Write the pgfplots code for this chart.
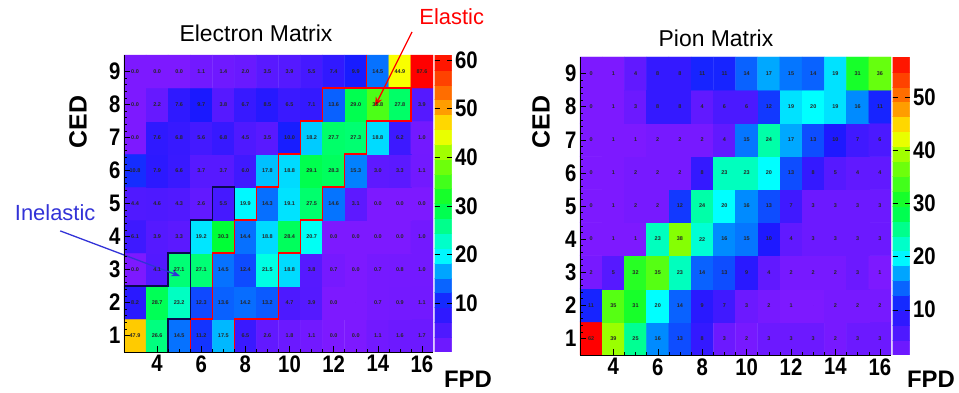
\documentclass[border=0pt]{standalone}
\usepackage{pgfplots}
\usepackage{pgfplotstable}
\pgfplotsset{compat=1.18}
\usetikzlibrary{arrows.meta}
\usepackage{fontspec}
\setmainfont{Liberation Sans}
\newfontfamily\narrowfont{Liberation Sans}[FakeStretch=0.85]
\definecolor{navyline}{RGB}{10,10,80}
\definecolor{inelblue}{RGB}{50,50,215}
\pgfkeys{/pgf/number format/assume math mode=true}

\pgfplotstableread{
x y v l
3 1 47.9 47.9
4 1 26.6 26.6
5 1 14.5 14.5
6 1 11.2 11.2
7 1 17.5 17.5
8 1 6.5 6.5
9 1 2.6 2.6
10 1 1.8 1.8
11 1 1.1 1.1
12 1 0.0 0.0
13 1 0.0 0.0
14 1 1.1 1.1
15 1 1.6 1.6
16 1 1.7 1.7
3 2 8.2 8.2
4 2 28.7 28.7
5 2 23.2 23.2
6 2 12.3 12.3
7 2 13.6 13.6
8 2 14.2 14.2
9 2 13.2 13.2
10 2 4.7 4.7
11 2 3.9 3.9
12 2 0.0 0.0
13 2 0 {}
14 2 0.7 0.7
15 2 0.9 0.9
16 2 1.1 1.1
3 3 0.0 0.0
4 3 4.1 4.1
5 3 27.1 27.1
6 3 27.1 27.1
7 3 14.5 14.5
8 3 12.4 12.4
9 3 21.5 21.5
10 3 18.8 18.8
11 3 3.8 3.8
12 3 0.7 0.7
13 3 0.0 0.0
14 3 0.7 0.7
15 3 0.8 0.8
16 3 1.0 1.0
3 4 6.1 6.1
4 4 3.9 3.9
5 4 3.3 3.3
6 4 19.2 19.2
7 4 30.3 30.3
8 4 14.4 14.4
9 4 18.8 18.8
10 4 28.4 28.4
11 4 20.7 20.7
12 4 0.0 0.0
13 4 0.0 0.0
14 4 0.0 0.0
15 4 0.0 0.0
16 4 1.0 1.0
3 5 4.4 4.4
4 5 4.6 4.6
5 5 4.3 4.3
6 5 2.6 2.6
7 5 5.5 5.5
8 5 19.9 19.9
9 5 14.3 14.3
10 5 19.1 19.1
11 5 27.5 27.5
12 5 14.6 14.6
13 5 3.1 3.1
14 5 0.0 0.0
15 5 0.0 0.0
16 5 0.0 0.0
3 6 10.8 10.8
4 6 7.9 7.9
5 6 6.6 6.6
6 6 3.7 3.7
7 6 3.7 3.7
8 6 6.0 6.0
9 6 17.8 17.8
10 6 18.8 18.8
11 6 29.1 29.1
12 6 28.3 28.3
13 6 15.3 15.3
14 6 3.0 3.0
15 6 3.3 3.3
16 6 1.1 1.1
3 7 0.0 0.0
4 7 7.6 7.6
5 7 6.8 6.8
6 7 5.6 5.6
7 7 6.8 6.8
8 7 4.5 4.5
9 7 3.5 3.5
10 7 10.0 10.0
11 7 18.2 18.2
12 7 27.7 27.7
13 7 27.3 27.3
14 7 18.8 18.8
15 7 6.2 6.2
16 7 1.0 1.0
3 8 0.0 0.0
4 8 2.2 2.2
5 8 7.6 7.6
6 8 9.7 9.7
7 8 3.8 3.8
8 8 6.7 6.7
9 8 8.5 8.5
10 8 6.5 6.5
11 8 7.1 7.1
12 8 13.6 13.6
13 8 29.0 29.0
14 8 35.8 35.8
15 8 27.8 27.8
16 8 3.9 3.9
3 9 0.0 0.0
4 9 0.0 0.0
5 9 0.0 0.0
6 9 1.1 1.1
7 9 1.4 1.4
8 9 2.0 2.0
9 9 3.5 3.5
10 9 3.9 3.9
11 9 5.5 5.5
12 9 7.4 7.4
13 9 9.9 9.9
14 9 14.5 14.5
15 9 44.9 44.9
16 9 87.6 87.6
}\lefttab

\pgfplotstableread{
x y v l
3 1 62 62
4 1 39 39
5 1 25 25
6 1 16 16
7 1 13 13
8 1 8 8
9 1 3 3
10 1 2 2
11 1 3 3
12 1 3 3
13 1 3 3
14 1 2 2
15 1 3 3
16 1 3 3
3 2 11 11
4 2 35 35
5 2 31 31
6 2 20 20
7 2 14 14
8 2 9 9
9 2 7 7
10 2 3 3
11 2 2 2
12 2 1 1
13 2 0 {}
14 2 2 2
15 2 2 2
16 2 2 2
3 3 2 2
4 3 5 5
5 3 32 32
6 3 35 35
7 3 23 23
8 3 14 14
9 3 13 13
10 3 9 9
11 3 4 4
12 3 2 2
13 3 2 2
14 3 2 2
15 3 3 3
16 3 1 1
3 4 0 0
4 4 1 1
5 4 1 1
6 4 23 23
7 4 38 38
8 4 22 22
9 4 16 16
10 4 15 15
11 4 10 10
12 4 4 4
13 4 3 3
14 4 3 3
15 4 3 3
16 4 3 3
3 5 0 0
4 5 1 1
5 5 2 2
6 5 2 2
7 5 12 12
8 5 24 24
9 5 20 20
10 5 16 16
11 5 13 13
12 5 7 7
13 5 3 3
14 5 3 3
15 5 3 3
16 5 3 3
3 6 0 0
4 6 1 1
5 6 2 2
6 6 2 2
7 6 2 2
8 6 8 8
9 6 23 23
10 6 23 23
11 6 20 20
12 6 13 13
13 6 8 8
14 6 5 5
15 6 4 4
16 6 4 4
3 7 0 0
4 7 1 1
5 7 1 1
6 7 2 2
7 7 2 2
8 7 2 2
9 7 4 4
10 7 15 15
11 7 24 24
12 7 17 17
13 7 13 13
14 7 10 10
15 7 7 7
16 7 6 6
3 8 0 0
4 8 1 1
5 8 3 3
6 8 8 8
7 8 8 8
8 8 4 4
9 8 6 6
10 8 6 6
11 8 12 12
12 8 19 19
13 8 20 20
14 8 19 19
15 8 16 16
16 8 11 11
3 9 0 0
4 9 1 1
5 9 4 4
6 9 8 8
7 9 8 8
8 9 11 11
9 9 11 11
10 9 14 14
11 9 17 17
12 9 15 15
13 9 14 14
14 9 19 19
15 9 31 31
16 9 36 36
}\righttab

\pgfplotsset{
  colormap={rootpal}{rgb255(0cm)=(125,25,255) rgb255(16cm)=(25,25,255) rgb255(26cm)=(0,140,255) rgb255(33cm)=(0,255,255) rgb255(50cm)=(0,255,50) rgb255(66cm)=(140,255,0) rgb255(74cm)=(255,255,0) rgb255(84cm)=(255,140,0) rgb255(100cm)=(255,0,0)},
  heat/.style={
    scale only axis, anchor=south west,
    xmin=2.5, xmax=16.5, ymin=0.5, ymax=9.5,
    axis x line=bottom, axis y line=left,
    axis line style={-, black, line width=0.8pt},
    axis on top, clip=false,
    xtick={4,6,...,16}, ytick={1,...,9},
    minor x tick num=3, minor y tick num=4,
    tick align=inside, major tick length=6bp, minor tick length=3bp,
    tick style={black, line width=0.5pt},
    ticklabel style={font=\narrowfont\bfseries\fontsize{24}{25}\selectfont},
    colormap name=rootpal,
    colorbar sampled,
    colorbar style={
      scale only axis, width=17bp, at={(1.005,1)}, anchor=north west,
      samples=21,
      tick align=inside, major tick length=5bp,
      tick style={black, line width=0.5pt},
      axis line style={draw=none},
      yticklabel style={font=\narrowfont\bfseries\fontsize{24}{25}\selectfont},
    },
  },
  cell/.style={only marks, mark=*, mark size=0pt, mark options={draw=none, fill=none},
    nodes near coords, point meta=explicit symbolic,
    every node near coord/.append style={anchor=center, inner sep=0pt,
      font=\bfseries\fontsize{5.5}{6}\selectfont, text=black!85}},
}

\begin{document}
\begin{tikzpicture}
\useasboundingbox (0,0) rectangle (959bp,393bp);
\begin{axis}[heat, at={(124bp,41bp)}, width=309bp, height=297bp,
  point meta min=0, point meta max=61,
  colorbar style={ytick={10,20,...,60}}]
\addplot[matrix plot*, mesh/cols=14, point meta=explicit] table[x=x,y=y,meta=v]{\lefttab};
\addplot[cell] table[x=x,y=y,meta=l]{\lefttab};
\addplot[red, line width=1.3bp, mark=none] coordinates {(13.5,9.5) (13.5,8.5) (11.5,8.5) (11.5,7.5) (10.5,7.5) (10.5,6.5) (9.5,6.5) (9.5,5.5) (8.5,5.5) (8.5,4.5) (7.5,4.5) (7.5,3.5) (6.5,3.5) (6.5,1.5) (5.5,1.5) (5.5,0.5)};
\addplot[red, line width=1.3bp, mark=none] coordinates {(13.5,8.5) (15.5,8.5) (15.5,7.5) (13.5,7.5) (13.5,6.5) (12.5,6.5) (12.5,5.5) (11.5,5.5) (11.5,4.5) (10.5,4.5) (10.5,3.5) (9.5,3.5) (9.5,1.5) (7.5,1.5) (7.5,0.5)};
\addplot[navyline, line width=1.3bp, mark=none] coordinates {(2.5,2.5) (4.5,2.5) (4.5,3.5) (5.5,3.5) (5.5,4.5) (6.5,4.5) (6.5,5.5) (7.5,5.5) (7.5,4.5)};
\addplot[navyline, line width=1.3bp, mark=none] coordinates {(4.5,0.5) (4.5,1.5) (5.5,1.5) (5.5,3.5)};
\node[text=red, font=\fontsize{22}{24}\selectfont] at (axis cs:17.35,10.65) {Elastic};
\draw[red, line width=1.3bp, -{Stealth[length=9bp,width=7bp]}] (axis cs:15.55,10.2) -- (axis cs:13.87,7.95);
\node[text=inelblue, font=\fontsize{22}{24}\selectfont] at (axis cs:-0.62,4.71) {Inelastic};
\draw[inelblue, line width=1.3bp, -{Stealth[length=9bp,width=7bp]}] (axis cs:-0.39,4.17) -- (axis cs:5.04,2.8);
\end{axis}
\begin{axis}[heat, at={(580bp,38bp)}, width=311bp, height=298bp,
  point meta min=1.5, point meta max=57.5,
  colorbar style={ytick={10,20,...,50}}]
\addplot[matrix plot*, mesh/cols=14, point meta=explicit] table[x=x,y=y,meta=v]{\righttab};
\addplot[cell] table[x=x,y=y,meta=l]{\righttab};
\end{axis}
\node[font=\fontsize{23}{26}\selectfont] at (256bp,360bp) {Electron Matrix};
\node[font=\fontsize{23}{26}\selectfont] at (716bp,355bp) {Pion Matrix};
\node[rotate=90, font=\bfseries\fontsize{25}{28}\selectfont] at (78bp,271bp) {CED};
\node[rotate=90, font=\bfseries\fontsize{25}{28}\selectfont] at (541bp,271bp) {CED};
\node[font=\bfseries\fontsize{24}{26}\selectfont, inner sep=0pt, anchor=base] at (468bp,6bp) {FPD};
\node[font=\bfseries\fontsize{24}{26}\selectfont, inner sep=0pt, anchor=base] at (931bp,6bp) {FPD};
\end{tikzpicture}
\end{document}
